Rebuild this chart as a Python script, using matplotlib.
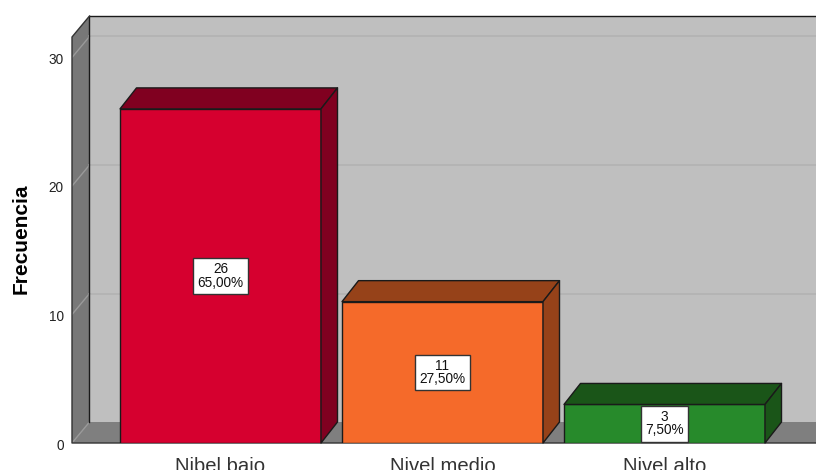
from matplotlib import pyplot as plt
from matplotlib.patches import Polygon
from matplotlib.transforms import ScaledTranslation

categories = ['Nibel bajo', 'Nivel medio', 'Nivel alto']
frecuencia = [26, 11, 3]
porcentaje = ['65,00%', '27,50%', '7,50%']
y_ticks = [0, 10, 20, 30]

front_colors = ['#d6002f', '#f56a2a', '#278a2b']
dark_colors = ['#800020', '#964219', '#1a5518']

plt.rcParams['font.family'] = ['Liberation Sans', 'DejaVu Sans']

fig = plt.figure(figsize=(8.16, 4.7), dpi=100)
ax = fig.add_axes([72 / 816, 27 / 470, 744 / 816, 427 / 470])

# one category is 222 px wide, one unit of y is 12.85 px
x_min = (72 - 220.5) / 222
x_max = (816 - 220.5) / 222
y_max = 427 / 12.85
ax.set_xlim(x_min, x_max)
ax.set_ylim(0, y_max)

# depth of the fake 3d box
dx = 17.5 / 222
dy = 21 / 12.85
wall_top = y_max - dy
bar_width = 201 / 222
bar_dx = 16.5 / 222
edge = '#1a1a1a'


def add_face(points, color, line=edge, lw=1.0, z=2):
    ax.add_patch(Polygon(points, closed=True, facecolor=color, edgecolor=line,
                         linewidth=lw, zorder=z, clip_on=False, joinstyle='round'))


# back wall, floor, side wall
add_face([(x_min + dx, dy), (x_max, dy), (x_max, y_max), (x_min + dx, y_max)], '#bfbfbf', line='none', z=1)
add_face([(x_min, 0), (x_min + dx, dy), (x_max, dy), (x_max, 0)], '#7f7f7f', line='none', z=1)
add_face([(x_min, 0), (x_min + dx, dy), (x_min + dx, y_max), (x_min, wall_top)], '#787878', line='none', z=1)

ax.plot([x_min + dx, x_min + dx, x_max], [dy, y_max, y_max], color=edge, lw=1.0, zorder=2, clip_on=False)
ax.plot([x_min + dx, x_min, x_min, x_max], [y_max, wall_top, 0, 0], color='#333333', lw=1.0, zorder=2, clip_on=False)

for tick in y_ticks:
    if tick > 0:
        ax.plot([x_min + dx, x_max], [tick + dy, tick + dy], color='#b2b2b2', lw=1.2, zorder=1.5)
    ax.plot([x_min, x_min + dx], [tick, tick + dy], color='#9a9a9a', lw=1.0, zorder=1.5)

ax.bar(range(len(categories)), frecuencia, width=bar_width, color=front_colors,
       edgecolor=edge, linewidth=1.0, zorder=3)

for i, value in enumerate(frecuencia):
    left = i - bar_width / 2
    right = i + bar_width / 2
    add_face([(left, value), (left + bar_dx, value + dy), (right + bar_dx, value + dy), (right, value)],
             dark_colors[i], z=3)
    add_face([(right, 0), (right + bar_dx, dy), (right + bar_dx, value + dy), (right, value)],
             dark_colors[i], z=3)
    ax.text(i, value / 2, f'{value}\n{porcentaje[i]}', ha='center', va='center',
            fontsize=9.8, linespacing=0.95, color='#111111', zorder=4, multialignment='center',
            bbox=dict(boxstyle='square,pad=0.3', facecolor='white', edgecolor='#333333', linewidth=1.0))

for name in ax.spines:
    ax.spines[name].set_visible(False)

ax.set_xticks(range(len(categories)), categories)
ax.set_yticks(y_ticks)
# the reference cuts these labels at the bottom edge too
ax.tick_params(axis='x', length=0, pad=9.8, labelsize=14.6, labelcolor='#333333')
ax.tick_params(axis='y', length=0, pad=6, labelsize=9.8, labelcolor='#222222')

# tick numbers sit a little under their grid lines
shift = ScaledTranslation(0, -1 / 100, fig.dpi_scale_trans)
for label in ax.get_yticklabels():
    label.set_transform(label.get_transform() + shift)

ax.set_ylabel('Frecuencia', fontsize=15, fontweight='bold', color='black')
ax.yaxis.set_label_coords(-41 / 744, (443 - 238.5) / 427)

fig.savefig('out.png', dpi=100)
